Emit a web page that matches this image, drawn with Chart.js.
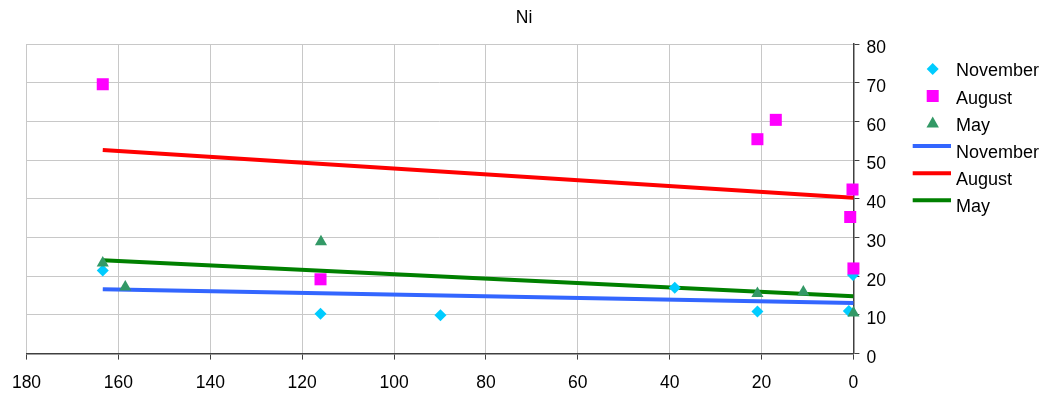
<!DOCTYPE html>
<html>
<head>
<meta charset="utf-8">
<title>Ni</title>
<script src="https://cdn.jsdelivr.net/npm/chart.js@4.4.1/dist/chart.umd.min.js"></script>
<style>
  html, body { margin: 0; padding: 0; background: #fff; }
  #wrap { width: 1048px; height: 418px; }
</style>
</head>
<body>
<div id="wrap"><canvas id="niChart" width="1048" height="418"></canvas></div>
<script>
// sample values: distance (x) and Ni (y)
const novemberX = [163.4, 116, 89.9, 38.9, 20.9, 1.0, 0.1];
const novemberY = [21.5, 10.3, 9.9, 17.0, 10.9, 11.0, 20.3];
const augustX = [163.4, 116, 20.9, 16.9, 0.2, 0.7, 0];
const augustY = [69.6, 19.2, 55.4, 60.4, 42.4, 35.3, 22.0];
const mayX = [163.4, 158.5, 115.9, 20.9, 10.9, 0];
const mayY = [23.4, 17.2, 28.9, 15.5, 15.9, 10.5];

// linear trend end points
const trendX = [163.4, 0];
const novemberTrend = [16.6, 13.1];
const augustTrend = [52.6, 40.3];
const mayTrend = [24.1, 14.8];

const xTicks = [0, 20, 40, 60, 80, 100, 120, 140, 160, 180];
const yTicks = [0, 10, 20, 30, 40, 50, 60, 70, 80];

const chartTitle = 'Ni';
const FONT = "'Liberation Sans', Arial, Helvetica, sans-serif";

const toPoints = (xs, ys) => xs.map((x, i) => ({ x: x, y: ys[i] }));

function markerSet(label, xs, ys, color, style, radius, order) {
  return {
    label: label,
    data: toPoints(xs, ys),
    showLine: false,
    pointStyle: style,
    pointRadius: radius,
    pointHoverRadius: radius,
    pointBackgroundColor: color,
    pointBorderColor: color,
    pointBorderWidth: 0,
    backgroundColor: color,
    borderColor: color,
    clip: false,
    order: order
  };
}

function trendSet(label, ys, color) {
  return {
    label: label,
    data: toPoints(trendX, ys),
    showLine: true,
    borderColor: color,
    backgroundColor: color,
    borderWidth: 4,
    pointRadius: 0,
    pointHoverRadius: 0,
    fill: false,
    clip: false,
    order: 5
  };
}

// title centred on the whole canvas, legend on the right drawn by hand
const sideLegend = {
  id: 'sideLegend',
  afterDraw(chart) {
    const ctx = chart.ctx;
    const markerX = 932.7;
    const textX = 956;
    const lineX0 = 912.7, lineX1 = 951;
    ctx.save();
    ctx.fillStyle = '#000';
    ctx.font = '17.5px ' + FONT;
    ctx.textAlign = 'center';
    ctx.textBaseline = 'middle';
    ctx.fillText(chartTitle, chart.width / 2, 18.5);

    ctx.font = '18px ' + FONT;
    ctx.textAlign = 'left';
    chart.data.datasets.forEach((ds, i) => {
      const ty = 71.5 + i * 27.1;
      ctx.fillStyle = '#000';
      ctx.fillText(ds.label, textX, ty);
      if (ds.showLine) {
        const ly = ty - 6.7;
        ctx.strokeStyle = ds.borderColor;
        ctx.lineWidth = 4;
        ctx.beginPath();
        ctx.moveTo(lineX0, ly);
        ctx.lineTo(lineX1, ly);
        ctx.stroke();
      } else {
        const my = ty - 2.6;
        ctx.fillStyle = ds.pointBackgroundColor;
        ctx.beginPath();
        if (ds.pointStyle === 'rectRot') {
          ctx.moveTo(markerX, my - 6);
          ctx.lineTo(markerX + 6, my);
          ctx.lineTo(markerX, my + 6);
          ctx.lineTo(markerX - 6, my);
        } else if (ds.pointStyle === 'rect') {
          ctx.rect(markerX - 6, my - 6, 12, 12);
        } else {
          ctx.moveTo(markerX, my - 6.5);
          ctx.lineTo(markerX + 6.2, my + 4.5);
          ctx.lineTo(markerX - 6.2, my + 4.5);
        }
        ctx.closePath();
        ctx.fill();
      }
    });
    ctx.restore();
  }
};

const ctx = document.getElementById('niChart').getContext('2d');
const niChart = new Chart(ctx, {
  type: 'scatter',
  data: {
    datasets: [
      markerSet('November', novemberX, novemberY, '#00CCFF', 'rectRot', 6, 3),
      markerSet('August', augustX, augustY, '#FF00FF', 'rect', 8.5, 2),
      markerSet('May', mayX, mayY, '#339966', 'triangle', 7, 1),
      trendSet('November', novemberTrend, '#3366FF'),
      trendSet('August', augustTrend, '#FF0000'),
      trendSet('May', mayTrend, '#008000')
    ]
  },
  options: {
    responsive: false,
    animation: false,
    devicePixelRatio: 1,
    layout: { padding: { left: 26.5, right: 155.1, top: 44, bottom: 11.4 } },
    plugins: {
      legend: { display: false },
      tooltip: { enabled: false },
      title: { display: false }
    },
    scales: {
      x: {
        type: 'linear',
        reverse: true,
        min: 0,
        max: 180,
        afterBuildTicks: axis => { axis.ticks = xTicks.map(v => ({ value: v })); },
        grid: {
          color: '#c8c8c8',
          lineWidth: 1,
          tickColor: '#404040',
          tickLength: 6,
          drawTicks: true
        },
        border: { color: '#404040', width: 1.5 },
        ticks: {
          color: '#000',
          padding: 13,
          maxRotation: 0,
          autoSkip: false,
          font: { family: FONT, size: 17.5 }
        }
      },
      y: {
        type: 'linear',
        position: 'right',
        min: 0,
        max: 80,
        afterBuildTicks: axis => { axis.ticks = yTicks.map(v => ({ value: v })); },
        grid: {
          color: '#c8c8c8',
          lineWidth: 1,
          tickColor: '#404040',
          tickLength: 6,
          drawTicks: true
        },
        border: { color: '#404040', width: 1.5 },
        ticks: {
          color: '#000',
          padding: 7,
          labelOffset: 4.5,
          autoSkip: false,
          font: { family: FONT, size: 17.5 }
        }
      }
    }
  },
  plugins: [sideLegend]
});
</script>
</body>
</html>
